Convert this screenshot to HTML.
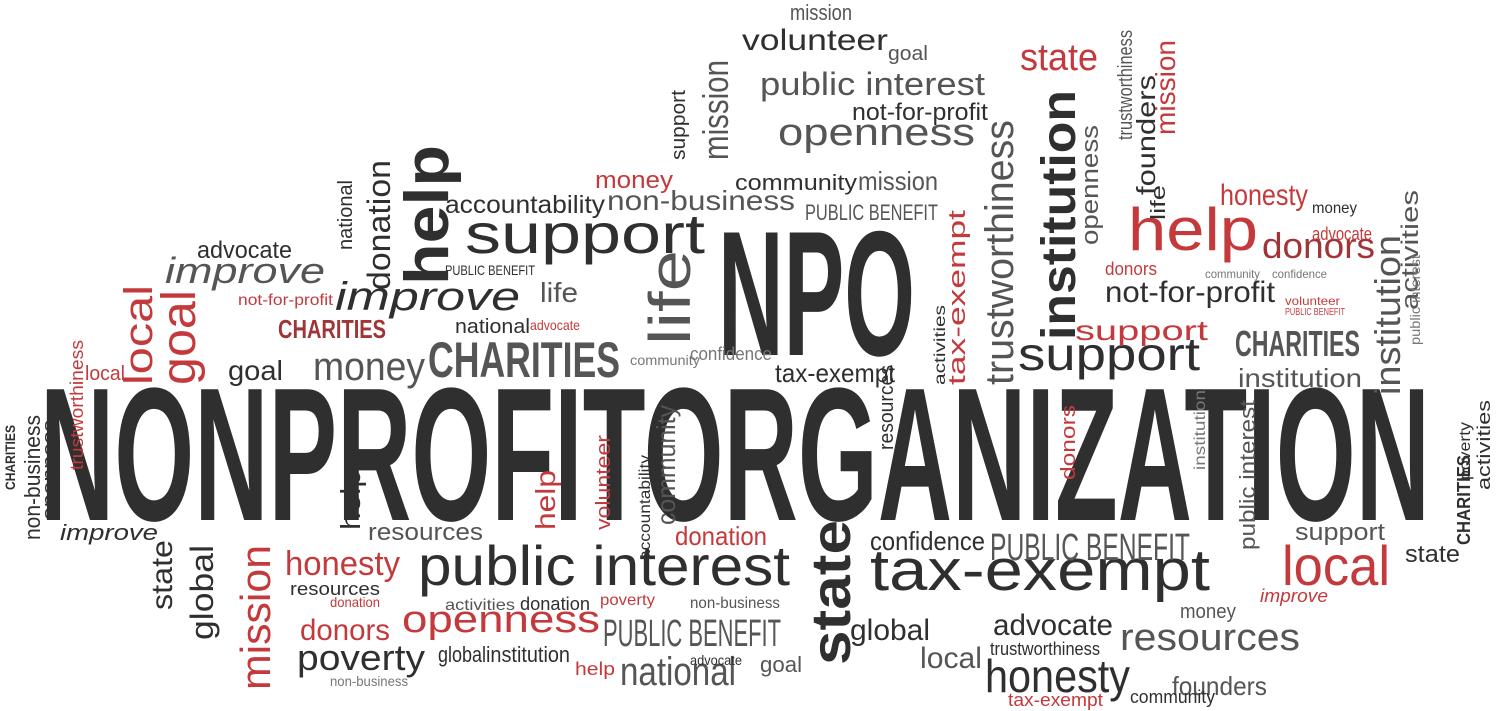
<!DOCTYPE html>
<html><head><meta charset="utf-8"><style>
html,body{margin:0;padding:0;background:#fff;width:1500px;height:711px;overflow:hidden}
svg text{font-family:"Liberation Sans Narrow","Liberation Sans",sans-serif}
</style></head><body>
<svg id="cloud" width="1500" height="711" viewBox="0 0 1500 711" xmlns="http://www.w3.org/2000/svg"></svg>
<script>
const D="#2f2f2f",R="#c43a3c",G="#555",L="#777";
// [text, x, baselineY, fontSize, length, color, rotate(0|-90), bold, italic]
const words=[
["NONPROFITORGANIZATION",40,520,190,1390,D,0,1],
["NPO",718,355,178,197,D,0,1],
["support",465,253,56,240,D,0,0],
["public interest",418,585,56,372,D,0,0],
["tax-exempt",870,590,58,340,D,0,0],
["CHARITIES",428,377,50,192,G,0,1],
["support",1018,370,46,182,D,0,0],
["help",1128,250,60,130,R,0,0],
["donors",1262,258,36,113,"#a03436",0,0],
["openness",778,145,38,197,G,0,0],
["public interest",760,95,32,225,G,0,0],
["volunteer",742,50,30,146,D,0,0],
["state",1020,70,38,78,R,0,0],
["mission",790,20,22,62,G,0,0],
["goal",888,60,20,40,G,0,0],
["not-for-profit",852,120,24,136,D,0,0],
["accountability",445,213,25,160,D,0,0],
["non-business",607,210,28,188,G,0,0],
["money",595,188,24,78,R,0,0],
["community",735,190,22,122,D,0,0],
["mission",858,190,26,80,G,0,0],
["PUBLIC BENEFIT",805,220,22,133,G,0,0],
["improve",165,283,36,160,G,0,0,1],
["improve",335,310,40,185,D,0,0,1],
["advocate",197,258,24,95,D,0,0],
["not-for-profit",238,305,16,95,R,0,0],
["CHARITIES",278,338,26,108,"#a03436",0,1],
["money",313,380,40,112,G,0,0],
["goal",228,380,28,55,D,0,0],
["national",455,333,20,75,D,0,0],
["advocate",530,330,14,50,R,0,0],
["life",540,302,28,38,G,0,0],
["PUBLIC BENEFIT",445,275,14,90,D,0,0],
["confidence",690,360,18,82,L,0,0],
["tax-exempt",775,382,26,120,D,0,0],
["community",630,365,14,70,L,0,0],
["PUBLIC BENEFIT",990,560,38,200,G,0,0],
["confidence",870,550,26,115,D,0,0],
["local",1282,585,56,108,R,0,0],
["support",1295,540,24,90,G,0,0],
["state",1405,562,24,55,D,0,0],
["improve",1260,602,18,68,R,0,0,1],
["honesty",985,692,46,145,D,0,0],
["resources",1120,650,38,180,G,0,0],
["founders",1172,695,26,95,G,0,0],
["community",1130,703,18,85,D,0,0],
["trustworthiness",990,655,18,110,D,0,0],
["tax-exempt",1008,706,18,95,R,0,0],
["local",920,668,30,62,G,0,0],
["global",850,640,30,80,D,0,0],
["advocate",993,635,30,120,D,0,0],
["money",1180,618,20,56,G,0,0],
["national",620,685,40,116,G,0,0],
["goal",760,672,22,42,G,0,0],
["advocate",690,665,14,52,D,0,0],
["PUBLIC BENEFIT",603,646,38,178,G,0,0],
["openness",402,632,38,198,R,0,0],
["activities",445,610,16,70,G,0,0],
["donation",520,610,18,70,D,0,0],
["poverty",600,605,16,55,R,0,0],
["non-business",690,608,16,90,G,0,0],
["donation",675,545,26,92,R,0,0],
["resources",368,540,24,115,G,0,0],
["global",438,662,22,48,D,0,0],
["institution",486,662,22,84,D,0,0],
["help",575,675,18,40,R,0,0],
["poverty",297,670,36,128,D,0,0],
["non-business",330,686,14,78,L,0,0],
["donors",300,640,30,90,R,0,0],
["honesty",285,575,34,115,R,0,0],
["resources",290,595,18,90,D,0,0],
["donation",330,607,14,50,R,0,0],
["improve",60,540,22,98,D,0,0,1],
["not-for-profit",1105,302,30,170,D,0,0],
["support",1075,340,28,133,R,0,0],
["honesty",1220,205,30,88,R,0,0],
["money",1312,213,16,45,D,0,0],
["advocate",1312,240,18,60,R,0,0],
["donors",1105,275,18,52,R,0,0],
["community",1205,278,12,55,L,0,0],
["confidence",1272,278,12,55,L,0,0],
["volunteer",1285,305,12,55,R,0,0],
["PUBLIC BENEFIT",1285,315,10,60,R,0,0],
["CHARITIES",1235,356,36,125,G,0,1],
["institution",1238,387,26,124,G,0,0],
["institution",1075,340,48,250,D,-90,1],
["trustworthiness",1013,385,40,265,G,-90,0],
["openness",1098,245,24,120,G,-90,0],
["help",448,285,62,140,D,-90,1],
["donation",390,290,32,130,D,-90,0],
["national",352,250,20,70,D,-90,0],
["life",690,345,58,95,G,-90,0],
["mission",728,160,36,100,G,-90,0],
["support",685,160,20,70,D,-90,0],
["tax-exempt",965,385,24,175,R,-90,0],
["activities",945,385,16,80,D,-90,0],
["goal",195,385,48,95,R,-90,0],
["local",152,385,40,100,R,-90,0],
["local",85,380,20,40,R,0,0],
["trustworthiness",83,470,18,130,R,-90,0],
["openness",55,520,18,100,D,-90,0],
["non-business",40,540,22,125,D,-90,0],
["CHARITIES",15,490,14,65,D,-90,1],
["state",172,610,30,70,D,-90,0],
["global",213,640,32,95,D,-90,0],
["mission",270,690,42,145,R,-90,0],
["help",360,530,28,60,D,-90,0],
["help",555,530,28,60,R,-90,0],
["volunteer",610,530,20,95,R,-90,0],
["community",675,525,26,120,G,-90,0],
["accountability",650,560,16,105,D,-90,0],
["state",850,665,56,145,D,-90,1],
["resources",893,450,20,85,D,-90,0],
["donors",1075,480,20,75,R,-90,0],
["public interest",1255,550,22,150,G,-90,0],
["institution",1205,470,16,80,L,-90,0],
["activities",1418,310,24,120,G,-90,0],
["institution",1400,395,36,160,G,-90,0],
["public interest",1420,345,14,90,L,-90,0],
["activities",1490,490,18,90,D,-90,0],
["poverty",1470,480,16,58,D,-90,0],
["CHARITIES",1470,545,18,90,D,-90,1],
["mission",1175,135,28,95,R,-90,0],
["founders",1155,195,26,120,D,-90,0],
["trustworthiness",1132,140,20,110,G,-90,0],
["life",1165,220,20,35,D,-90,0]
];
const svg=document.getElementById('cloud');
const NS="http://www.w3.org/2000/svg";
words.forEach(w=>{
  const t=document.createElementNS(NS,'text');
  
  
  t.setAttribute('x',w[1]);t.setAttribute('y',w[2]);
  t.setAttribute('font-size',w[3]);
  if(w[4]>0){t.setAttribute('textLength',w[4]);t.setAttribute('lengthAdjust','spacingAndGlyphs');}
  t.setAttribute('fill',w[5]);
  if(w[6])t.setAttribute('transform','rotate('+w[6]+' '+w[1]+' '+w[2]+')');
  if(w[7])t.setAttribute('font-weight','bold');
  if(w[8])t.setAttribute('font-style','italic');
  t.textContent=w[0];
  svg.appendChild(t);
});
</script>
</body></html>
